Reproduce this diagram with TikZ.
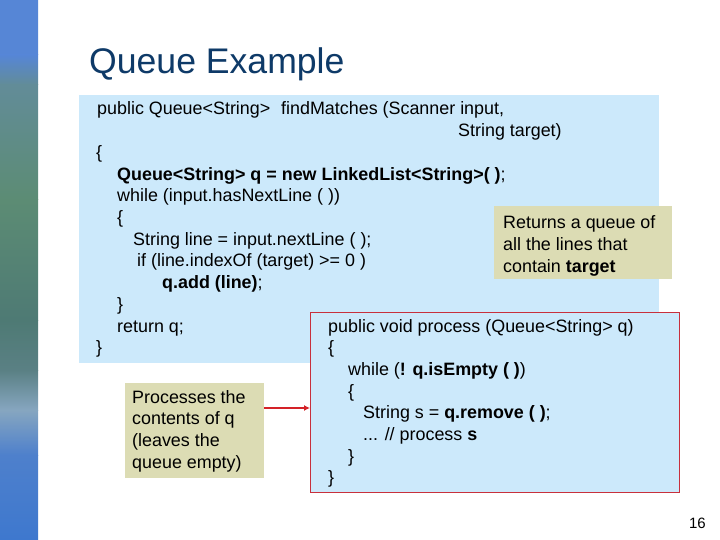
\documentclass[tikz,border=0pt]{standalone}
\usepackage{fontspec}
\setmainfont{Liberation Sans}
\usetikzlibrary{arrows.meta}
\definecolor{boxblue}{HTML}{CCE9FB}
\definecolor{noteyel}{HTML}{DCDCB4}
\definecolor{redline}{HTML}{C8303C}
\definecolor{arrowred}{HTML}{D42228}
\definecolor{titleblue}{HTML}{0E3A68}
\definecolor{sA}{HTML}{5686D6}
\definecolor{sB}{HTML}{628C98}
\definecolor{sC}{HTML}{5C8C74}
\definecolor{sD}{HTML}{4E7A74}
\definecolor{sE}{HTML}{5A8084}
\definecolor{sF}{HTML}{86A6C0}
\definecolor{sG}{HTML}{4E80CC}
\definecolor{sH}{HTML}{3E78CE}
\begin{document}
\begin{tikzpicture}[x=1pt,y=-1pt,
  code/.style={anchor=base west, inner sep=0pt, font=\fontsize{17.9}{21}\selectfont},
  panel/.style={anchor=north west, inner sep=0pt, outer sep=0pt}]
\useasboundingbox (0,0) rectangle (720,540);
\fill[white] (0,0) rectangle (720,540);
% left strip
\shade[top color=sA, bottom color=sA] (0,0) rectangle (38,55);
\shade[top color=sA, bottom color=sB] (0,55) rectangle (38,85);
\shade[top color=sB, bottom color=sC] (0,85) rectangle (38,200);
\shade[top color=sC, bottom color=sD] (0,200) rectangle (38,320);
\shade[top color=sD, bottom color=sE] (0,320) rectangle (38,370);
\shade[top color=sE, bottom color=sF] (0,370) rectangle (38,410);
\shade[top color=sF, bottom color=sG] (0,410) rectangle (38,455);
\shade[top color=sG, bottom color=sH] (0,455) rectangle (38,540);
% title
\node[anchor=base west, inner sep=0pt, text=titleblue, font=\fontsize{35.6}{40}\selectfont] (title) at (89,74) {Queue Example};
% boxes
\node[panel, fill=boxblue, minimum width=580pt, minimum height=268pt] (main) at (79,95) {};
\node[panel, fill=noteyel, minimum width=178pt, minimum height=73pt] (note1) at (494,206) {};
\node[panel, fill=boxblue, draw=redline, line width=1pt, minimum width=369pt, minimum height=180pt] (procbox) at (310,312) {};
\node[panel, fill=noteyel, minimum width=139pt, minimum height=95pt] (note2) at (125,383) {};
% arrow
\coordinate (arrowy) at (0,408);
\draw[arrowred, line width=2pt, -{Latex[length=6pt,width=6pt]}] (note2.east |- arrowy) -- (procbox.west |- arrowy);
% main code
\node[code] (m1a) at (97,115) {public Queue<String>};
\node[code] (m1b) at (281,115) {findMatches (Scanner input,};
\node[code] (m2) at (458,136.7) {String target)};
\node[code] (m3) at (96,158.4) {\{};
\node[code] (m4) at (117,180.1) {\textbf{Queue<String> q = new LinkedList<String>( )};};
\node[code] (m5) at (117,201.8) {while (input.hasNextLine ( ))};
\node[code] (m6) at (117,223.5) {\{};
\node[code] (m7) at (133,245.2) {String line = input.nextLine ( );};
\node[code] (m8) at (137,266.9) {if (line.indexOf (target) >= 0 )};
\node[code] (m9) at (162,288.6) {\textbf{q.add (line)};};
\node[code] (m10) at (117,310.3) {\}};
\node[code] (m11) at (117,332) {return q;};
\node[code] (m12) at (96,353.7) {\}};
% note 1
\node[code] (n1) at (503,229) {Returns a queue of};
\node[code] (n2) at (503,250.5) {all the lines that};
\node[code] (n3) at (503,272) {contain \textbf{target}};
% process code
\node[code] (p1) at (328,332) {public void process (Queue<String> q)};
\node[code] (p2) at (328,353.7) {\{};
\node[code] (p3) at (348,375.4) {while (\textbf{! q.isEmpty ( )})};
\node[code] (p4) at (348,397.1) {\{};
\node[code] (p5) at (363,418.8) {String s = \textbf{q.remove ( )};};
\node[code] (p6) at (363,440.5) {... // process \textbf{s}};
\node[code] (p7) at (348,462.2) {\}};
\node[code] (p8) at (328,483.9) {\}};
% note 2
\node[code] (q1) at (132,403) {Processes the};
\node[code] (q2) at (132,424.7) {contents of q};
\node[code] (q3) at (132,446.4) {(leaves the};
\node[code] (q4) at (132,468.1) {queue empty)};
% page number
\node[anchor=base east, inner sep=0pt, font=\fontsize{15}{18}\selectfont] (pg) at (706,528) {16};
\end{tikzpicture}
\end{document}
